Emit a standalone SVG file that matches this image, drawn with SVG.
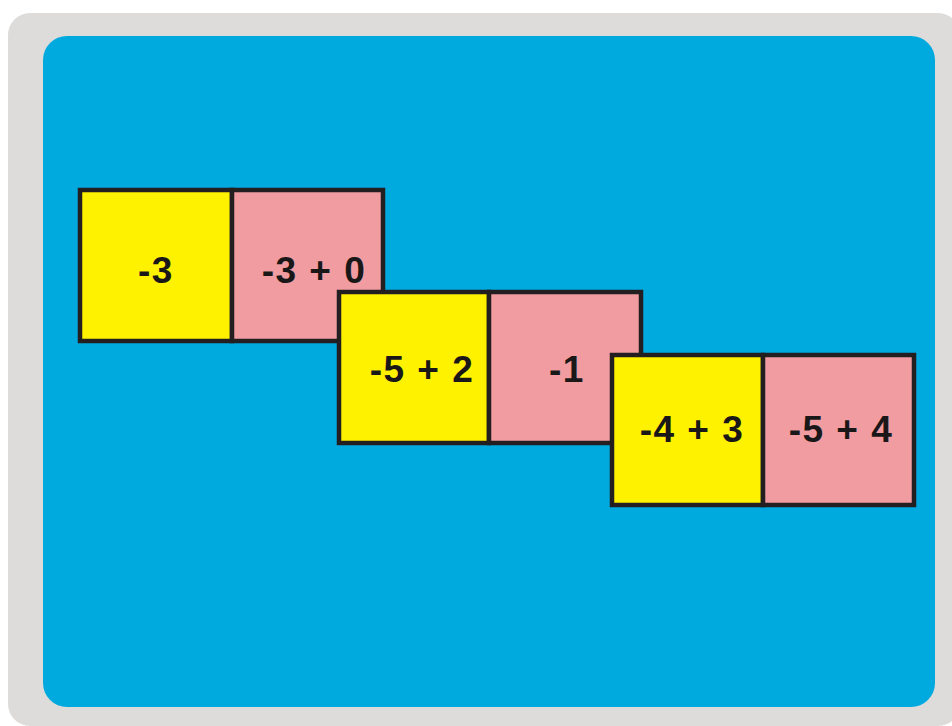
<svg xmlns="http://www.w3.org/2000/svg" width="952" height="726" viewBox="0 0 952 726">
<style>
.y{fill:#FFF200;stroke:#231F20;stroke-width:4.5}
.p{fill:#F09CA0;stroke:#231F20;stroke-width:4.5}
.t{font-family:"Liberation Sans",Arial,sans-serif;font-weight:bold;font-size:37px;letter-spacing:1.5px;fill:#1A1718;text-anchor:middle}
</style>
<rect x="0" y="0" width="952" height="726" fill="#FFFFFF"/>
<rect x="8" y="13" width="952" height="713" rx="22" fill="#DEDCDB"/>
<rect x="43" y="36" width="892" height="671" rx="24" fill="#00AADF"/>
<g id="pair1">
<rect class="y" x="80" y="190" width="152" height="151"/>
<rect class="p" x="232" y="190" width="151" height="151"/>
<text class="t" x="156" y="283">-3</text>
<text class="t" x="314" y="283">-3 + 0</text>
</g>
<g id="pair2">
<rect class="y" x="339" y="292" width="150" height="151"/>
<rect class="p" x="489" y="292" width="152" height="151"/>
<text class="t" x="422" y="382">-5 + 2</text>
<text class="t" x="567" y="382">-1</text>
</g>
<g id="pair3">
<rect class="y" x="612" y="355" width="151" height="150"/>
<rect class="p" x="763" y="355" width="151" height="150"/>
<text class="t" x="692" y="442">-4 + 3</text>
<text class="t" x="841" y="442">-5 + 4</text>
</g>
<g id="connectors"></g>
</svg>
